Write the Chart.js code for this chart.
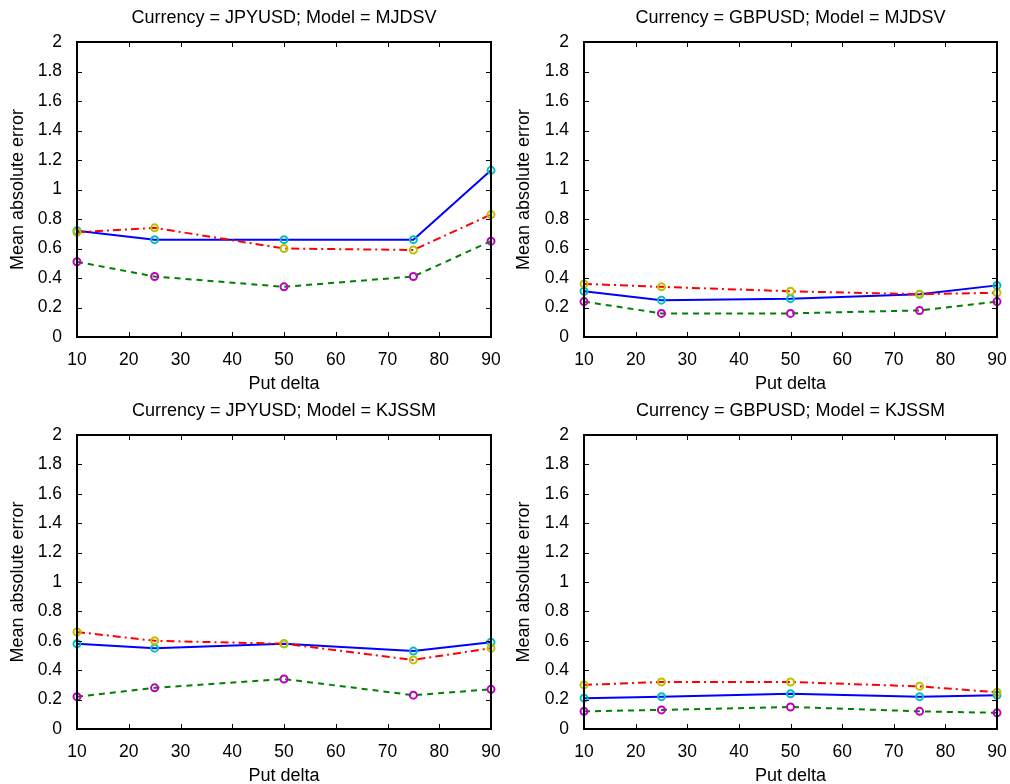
<!DOCTYPE html>
<html>
<head>
<meta charset="utf-8">
<script src="https://cdn.jsdelivr.net/npm/chart.js@4"></script>
<style>
  html, body { margin: 0; padding: 0; background: #fff; }
  #wrap { position: relative; width: 1010px; height: 784px; overflow: hidden; }
  .cell { position: absolute; }
</style>
</head>
<body>
<div id="wrap">
  <div class="cell" style="left:0;top:0;width:505px;height:392px"><canvas id="c1"></canvas></div>
  <div class="cell" style="left:506px;top:0;width:504px;height:392px"><canvas id="c2"></canvas></div>
  <div class="cell" style="left:0;top:392px;width:505px;height:392px"><canvas id="c3"></canvas></div>
  <div class="cell" style="left:506px;top:392px;width:504px;height:392px"><canvas id="c4"></canvas></div>
</div>
<script>
// ── 資料 ──────────────────────────────────────────────────────────────
const putDelta = [10, 25, 50, 75, 90];
const xTicks   = [10, 20, 30, 40, 50, 60, 70, 80, 90];
const yTicks   = [0, 0.2, 0.4, 0.6, 0.8, 1, 1.2, 1.4, 1.6, 1.8, 2];

const titles = [
  'Currency = JPYUSD; Model = MJDSV',
  'Currency = GBPUSD; Model = MJDSV',
  'Currency = JPYUSD; Model = KJSSM',
  'Currency = GBPUSD; Model = KJSSM'
];

// 藍實線 / 紅點劃線 / 綠虛線
const jpyMjdsvBlue  = [0.72, 0.66, 0.66, 0.66, 1.13];
const jpyMjdsvRed   = [0.71, 0.74, 0.60, 0.59, 0.83];
const jpyMjdsvGreen = [0.51, 0.41, 0.34, 0.41, 0.65];

const gbpMjdsvBlue  = [0.31, 0.25, 0.26, 0.29, 0.35];
const gbpMjdsvRed   = [0.36, 0.34, 0.31, 0.29, 0.30];
const gbpMjdsvGreen = [0.24, 0.16, 0.16, 0.18, 0.24];

const jpyKjssmBlue  = [0.58, 0.55, 0.58, 0.53, 0.59];
const jpyKjssmRed   = [0.66, 0.60, 0.58, 0.47, 0.55];
const jpyKjssmGreen = [0.22, 0.28, 0.34, 0.23, 0.27];

const gbpKjssmBlue  = [0.21, 0.22, 0.24, 0.22, 0.23];
const gbpKjssmRed   = [0.30, 0.32, 0.32, 0.29, 0.25];
const gbpKjssmGreen = [0.12, 0.13, 0.15, 0.12, 0.11];

const panels = [
  { id: 'c1', title: titles[0], blue: jpyMjdsvBlue, red: jpyMjdsvRed, green: jpyMjdsvGreen, top: 7.2, yw: 77, right: 14 },
  { id: 'c2', title: titles[1], blue: gbpMjdsvBlue, red: gbpMjdsvRed, green: gbpMjdsvGreen, top: 7.2, yw: 78, right: 13 },
  { id: 'c3', title: titles[2], blue: jpyKjssmBlue, red: jpyKjssmRed, green: jpyKjssmGreen, top: 8.2, yw: 77, right: 14 },
  { id: 'c4', title: titles[3], blue: gbpKjssmBlue, red: gbpKjssmRed, green: gbpKjssmGreen, top: 8.2, yw: 78, right: 13 }
];

const FONT = 'Liberation Sans, Arial, Helvetica, sans-serif';

// ── 外框 + 向內刻度 ──────────────────────────────────────────────────
const boxPlugin = {
  id: 'box',
  afterDatasetsDraw(chart) {
    const { ctx, chartArea: a, scales: { x, y } } = chart;
    ctx.save();
    ctx.strokeStyle = '#000';
    ctx.lineWidth = 1;
    ctx.beginPath();
    xTicks.forEach(v => {
      const px = Math.round(x.getPixelForValue(v)) + 0.5;
      ctx.moveTo(px, a.bottom); ctx.lineTo(px, a.bottom - 5);
      ctx.moveTo(px, a.top);    ctx.lineTo(px, a.top + 5);
    });
    yTicks.forEach(v => {
      const py = Math.round(y.getPixelForValue(v)) + 0.5;
      ctx.moveTo(a.left, py);  ctx.lineTo(a.left + 5, py);
      ctx.moveTo(a.right, py); ctx.lineTo(a.right - 5, py);
    });
    ctx.stroke();
    ctx.lineWidth = 2;
    ctx.strokeRect(a.left, a.top, a.right - a.left, a.bottom - a.top);
    ctx.restore();
  }
};

const line = (vals, color, marker, dash, order) => ({
  data: putDelta.map((d, i) => ({ x: d, y: vals[i] })),
  borderColor: color, borderWidth: 2, borderDash: dash,
  pointRadius: 3.5, pointBorderWidth: 2,
  pointBorderColor: marker, pointBackgroundColor: 'rgba(0,0,0,0)',
  tension: 0, fill: false, clip: false, order
});

panels.forEach(p => {
  new Chart(document.getElementById(p.id), {
    type: 'line',
    data: {
      datasets: [
        line(p.blue,  '#0000ff', '#00bfbf', [],           3),
        line(p.red,   '#ff0000', '#bfbf00', [8, 4, 2, 4], 2),
        line(p.green, '#008000', '#bf00bf', [6, 5],       1)
      ]
    },
    options: {
      responsive: true, maintainAspectRatio: false, animation: false,
      layout: { padding: { left: 0, right: p.right, top: 0, bottom: 0 } },
      plugins: {
        legend: { display: false },
        tooltip: { enabled: false },
        title: {
          display: true, text: p.title, color: '#000', fullSize: false,
          font: { family: FONT, size: 18, weight: 'normal' },
          padding: { top: p.top, bottom: 13.2 }
        }
      },
      scales: {
        x: {
          type: 'linear', min: 10, max: 90,
          afterBuildTicks: s => { s.ticks = xTicks.map(v => ({ value: v })); },
          afterFit: s => { s.height = 55; s.paddingLeft = 0; s.paddingRight = 0; },
          grid: { display: false, drawTicks: false },
          border: { display: false },
          ticks: { color: '#000', padding: 13, maxRotation: 0, font: { family: FONT, size: 17.5 } },
          title: { display: true, text: 'Put delta', color: '#000', padding: { top: 0, bottom: -3 },
                   font: { family: FONT, size: 18 } }
        },
        y: {
          min: 0, max: 2,
          afterBuildTicks: s => { s.ticks = yTicks.map(v => ({ value: v })); },
          afterFit: s => { s.width = p.yw; },
          grid: { display: false, drawTicks: false },
          border: { display: false },
          ticks: { color: '#000', padding: 15, font: { family: FONT, size: 17.5 },
                   callback: v => String(+v.toFixed(1)) },
          title: { display: true, text: 'Mean absolute error', color: '#000', padding: { top: 7, bottom: 0 },
                   font: { family: FONT, size: 18 } }
        }
      }
    },
    plugins: [boxPlugin]
  });
});
</script>
</body>
</html>
